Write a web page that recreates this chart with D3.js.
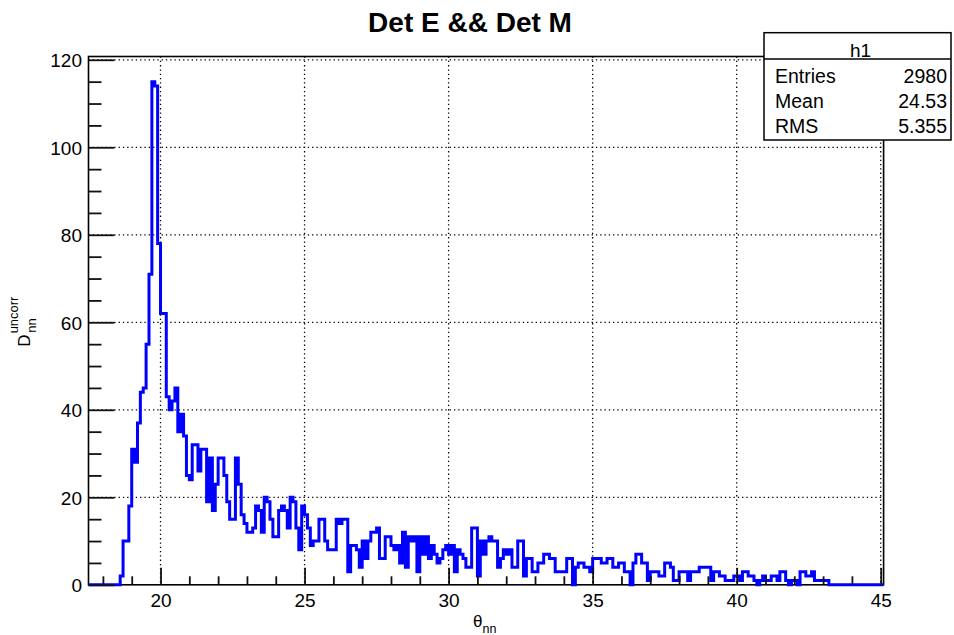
<!DOCTYPE html>
<html>
<head>
<meta charset="utf-8">
<script src="https://cdn.jsdelivr.net/npm/d3@7"></script>
<style>
  body { margin: 0; background: #fff; }
  text { font-family: "Liberation Sans", Arial, Helvetica, sans-serif; }
</style>
</head>
<body>
<div id="chart"></div>
<script>
// histogram h1, bins of 0.1 starting at 18.5 (everything else is empty)
var binStart = 18.5;
var binWidth = 0.1;
var counts = [
  0, 2, 10, 10, 18, 31, 28, 37, 44, 45,
  55, 71, 115, 114, 78, 62, 62, 43, 40, 42,
  45, 35, 39, 34, 25, 24, 32, 32, 26, 31,
  31, 19, 29, 17, 23, 29, 29, 25, 19, 15,
  15, 29, 23, 16, 14, 12, 12, 13, 18, 17,
  12, 20, 19, 15, 11, 11, 17, 18, 17, 13,
  20, 19, 13, 8, 18, 16, 13, 9, 10, 10,
  15, 15, 10, 8, 8, 8, 15, 14, 15, 15,
  3, 9, 9, 8, 4, 10, 6, 10, 12, 12,
  13, 6, 6, 11, 11, 9, 8, 9, 5, 12,
  4, 11, 10, 11, 3, 11, 7, 11, 6, 9,
  7, 5, 6, 8, 9, 7, 9, 3, 8, 7,
  6, 4, 4, 13, 13, 2, 10, 7, 10, 11,
  10, 10, 4, 6, 8, 7, 8, 4, 4, 10,
  10, 2, 6, 6, 3, 3, 5, 5, 7, 7,
  6, 6, 3, 3, 3, 3, 6, 6, 0, 4,
  5, 5, 4, 4, 3, 6, 6, 6, 5, 5,
  6, 6, 4, 4, 5, 5, 3, 3, 0, 5,
  7, 7, 5, 5, 1, 3, 3, 3, 2, 2,
  5, 5, 4, 1, 1, 3, 3, 3, 1, 3,
  3, 3, 4, 4, 4, 4, 1, 3, 3, 2,
  2, 1, 1, 1, 2, 2, 1, 3, 3, 2,
  2, 1, 0, 1, 2, 1, 1, 2, 2, 1,
  3, 3, 1, 0, 1, 1, 0, 3, 3, 2,
  2, 3, 1, 1, 1, 1, 1
];

var xRange = [17.5, 45.1];
var yRange = [0, 120.75];
var xMajor = [20, 25, 30, 35, 40, 45];
var xMinor = d3.range(18, 45, 1).filter(function (v) { return v % 5 != 0; });
var yMajor = [0, 20, 40, 60, 80, 100, 120];
var yMinor = d3.range(5, 120, 5).filter(function (v) { return v % 20 != 0; });

var title = "Det E && Det M";
var statName = "h1";
var statLabels = ["Entries", "Mean", "RMS"];
var statValues = ["2980", "24.53", "5.355"];

var width = 954, height = 635;
var fLeft = 88.5, fRight = 883.6, fTop = 56.5, fBottom = 584.8;

var svg = d3.select('#chart').append('svg')
  .attr('width', width)
  .attr('height', height);

svg.append('rect').attr('width', width).attr('height', height).attr('fill', '#fff');

var x = d3.scaleLinear().domain(xRange).range([fLeft, fRight]);
var y = d3.scaleLinear().domain(yRange).range([fBottom, fTop]);

// dotted grid
svg.append('g').selectAll('line')
  .data(xMajor).enter().append('line')
  .attr('x1', function (d) { return x(d); }).attr('x2', function (d) { return x(d); })
  .attr('y1', fTop).attr('y2', fBottom)
  .attr('stroke', '#000').attr('stroke-width', 1.3).attr('stroke-dasharray', '1.3,3');

svg.append('g').selectAll('line')
  .data(yMajor.slice(1)).enter().append('line')
  .attr('x1', fLeft).attr('x2', fRight)
  .attr('y1', function (d) { return y(d); }).attr('y2', function (d) { return y(d); })
  .attr('stroke', '#000').attr('stroke-width', 1.3).attr('stroke-dasharray', '1.3,3');

// frame
svg.append('rect')
  .attr('x', fLeft).attr('y', fTop)
  .attr('width', fRight - fLeft).attr('height', fBottom - fTop)
  .attr('fill', 'none').attr('stroke', '#000').attr('stroke-width', 1.6);

// histogram outline
var pts = [[xRange[0], 0]];
counts.forEach(function (c, i) {
  var lo = +(binStart + i * binWidth).toFixed(2);
  var hi = +(lo + binWidth).toFixed(2);
  pts.push([lo, c]);
  pts.push([hi, c]);
});
pts.push([+(binStart + counts.length * binWidth).toFixed(2), 0]);
pts.push([xRange[1], 0]);

var line = d3.line()
  .x(function (d) { return x(d[0]); })
  .y(function (d) { return y(d[1]); });

svg.append('path')
  .datum(pts)
  .attr('d', line)
  .attr('fill', 'none')
  .attr('stroke', '#0000ff')
  .attr('stroke-width', 3)
  .attr('stroke-linejoin', 'miter');

// axes, ticks point into the frame
svg.append('g')
  .attr('transform', 'translate(0,' + fBottom + ')')
  .call(d3.axisBottom(x).tickValues(xMajor).tickSizeInner(-17).tickSizeOuter(0).tickPadding(8.7));
svg.append('g')
  .attr('transform', 'translate(0,' + fBottom + ')')
  .call(d3.axisBottom(x).tickValues(xMinor).tickSizeInner(-8.5).tickSizeOuter(0).tickFormat(''));

var yAxis = svg.append('g')
  .attr('transform', 'translate(' + fLeft + ',0)')
  .call(d3.axisLeft(y).tickValues(yMajor).tickSizeInner(-26).tickSizeOuter(0).tickPadding(6.5));
svg.append('g')
  .attr('transform', 'translate(' + fLeft + ',0)')
  .call(d3.axisLeft(y).tickValues(yMinor).tickSizeInner(-13).tickSizeOuter(0).tickFormat(''));

svg.selectAll('.domain').remove();
svg.selectAll('.tick line').attr('stroke', '#111').attr('stroke-width', 1.8);
svg.selectAll('.tick text')
  .attr('fill', '#000')
  .style('font-size', '19px')
  .style('font-family', '"Liberation Sans", Arial, sans-serif');
yAxis.selectAll('.tick text').attr('dy', '0.36em');

// title
svg.append('text')
  .attr('x', 470).attr('y', 32)
  .attr('text-anchor', 'middle')
  .style('font-size', '28px').style('font-weight', 'bold')
  .text(title);

// x title: theta_nn
var xt = svg.append('text').attr('x', 473).attr('y', 627).style('font-size', '17px');
xt.append('tspan').text('θ');
xt.append('tspan').attr('dy', 6).style('font-size', '12.5px').text('nn');

// y title: D^uncorr_nn (rotated)
var yt = svg.append('g').attr('transform', 'translate(30,346.7) rotate(-90)');
yt.append('text').attr('x', 0).attr('y', 0).style('font-size', '17px').text('D');
yt.append('text').attr('x', 13.4).attr('y', -11.7).style('font-size', '12.9px').text('uncorr');
yt.append('text').attr('x', 14).attr('y', 6).style('font-size', '13px').text('nn');

// stats box
var bx = 764, by = 32.7, bw = 187, bh = 107.3, hy = 59;
svg.append('rect')
  .attr('x', bx).attr('y', by).attr('width', bw).attr('height', bh)
  .attr('fill', '#fff').attr('stroke', '#000').attr('stroke-width', 1.5);
svg.append('line')
  .attr('x1', bx).attr('x2', bx + bw).attr('y1', hy).attr('y2', hy)
  .attr('stroke', '#000').attr('stroke-width', 1.5);
svg.append('text')
  .attr('x', bx + bw / 2 + 3).attr('y', 56.5)
  .attr('text-anchor', 'middle').style('font-size', '19px')
  .text(statName);

statLabels.forEach(function (s, i) {
  svg.append('text')
    .attr('x', 775).attr('y', 83.3 + i * 25)
    .style('font-size', '19.5px')
    .text(s);
  svg.append('text')
    .attr('x', 947).attr('y', 83.3 + i * 25)
    .attr('text-anchor', 'end')
    .style('font-size', '19.5px')
    .text(statValues[i]);
});
</script>
</body>
</html>
